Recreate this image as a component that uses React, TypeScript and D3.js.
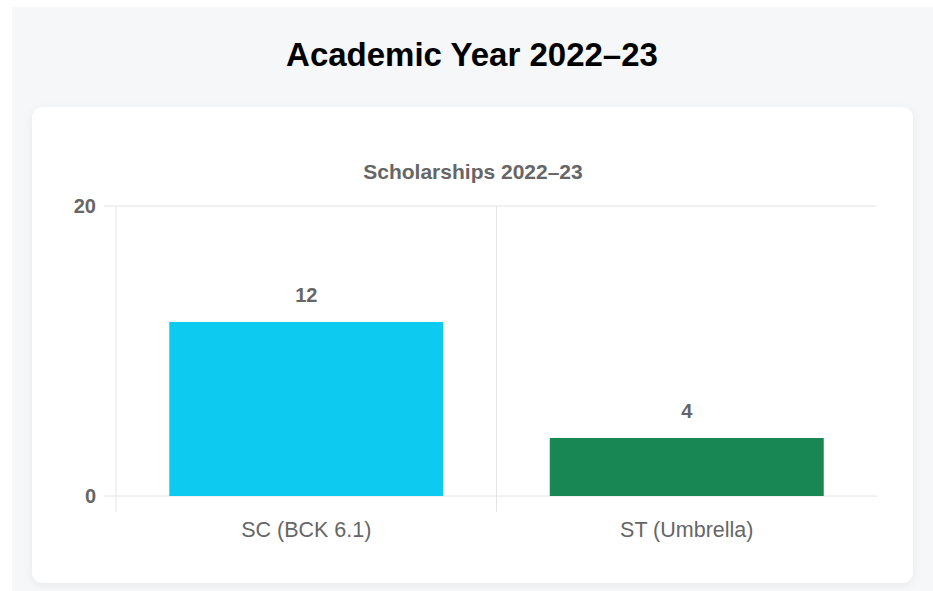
import React from "react";
import * as d3 from "d3";

const categories = ["SC (BCK 6.1)", "ST (Umbrella)"];
const values = [12, 4];
const barColors = ["#0dcaf0", "#198754"];
const yTicks = [0, 20];
const pageTitle = "Academic Year 2022–23";
const chartTitle = "Scholarships 2022–23";

export default function App() {
  const W = 933, H = 591;
  const left = 116, right = 877, top = 206, bottom = 496;
  const x = d3.scaleBand<string>().domain(categories).range([left, right]).paddingInner(0).paddingOuter(0);
  const y = d3.scaleLinear().domain([0, 20]).range([bottom, top]);
  const bw = x.bandwidth() * 0.72;
  const grid = "#e4e4e4";
  const font = "'Liberation Sans', Arial, sans-serif";
  return (
    <svg width={W} height={H} style={{ position: "absolute", left: 0, top: 0, display: "block" }}>
      <defs>
        <filter id="sh" x="-5%" y="-5%" width="110%" height="115%">
          <feDropShadow dx="0" dy="2" stdDeviation="4" floodColor="#000" floodOpacity="0.06" />
        </filter>
      </defs>
      <rect x={0} y={0} width={W} height={H} fill="#ffffff" />
      <rect x={12} y={7} width={W - 12} height={H - 7} fill="#f5f7f9" />
      <text x={472} y={66} textAnchor="middle" fontFamily={font} fontWeight="bold" fontSize={33} fill="#000">{pageTitle}</text>
      <rect x={32} y={107} width={881} height={476} rx={11} fill="#ffffff" filter="url(#sh)" />
      <text x={473} y={179} textAnchor="middle" fontFamily={font} fontWeight="bold" fontSize={21} fill="#666">{chartTitle}</text>
      {yTicks.map((t) => (
        <g key={t}>
          <line x1={104} x2={right} y1={y(t)} y2={y(t)} stroke={grid} strokeWidth={1} />
          <text x={96} y={y(t)} dy="0.35em" textAnchor="end" fontFamily={font} fontWeight="bold" fontSize={20} fill="#666">{t}</text>
        </g>
      ))}
      {categories.map((c) => (
        <line key={c} x1={x(c)!} x2={x(c)!} y1={top} y2={bottom + 16} stroke={grid} strokeWidth={1} />
      ))}
      {categories.map((c, i) => {
        const cx = x(c)! + x.bandwidth() / 2;
        return (
          <g key={c}>
            <rect x={cx - bw / 2} y={y(values[i])} width={bw} height={bottom - y(values[i])} fill={barColors[i]} />
            <text x={cx} y={y(values[i]) - 20} textAnchor="middle" fontFamily={font} fontWeight="bold" fontSize={20} fill="#666">{values[i]}</text>
            <text x={cx} y={537} textAnchor="middle" fontFamily={font} fontSize={21.5} fill="#666">{c}</text>
          </g>
        );
      })}
    </svg>
  );
}
